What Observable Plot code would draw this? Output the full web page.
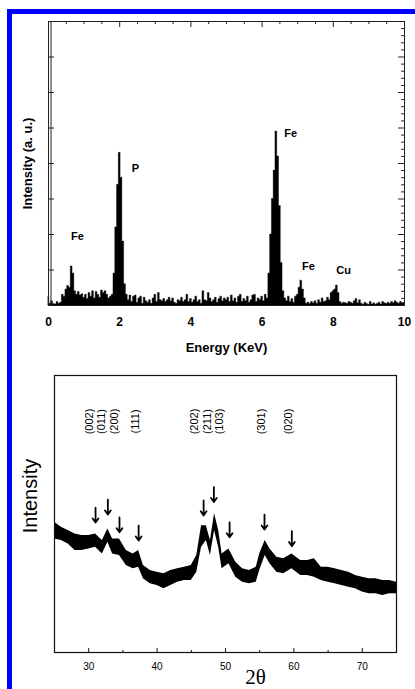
<!DOCTYPE html>
<html><head><meta charset="utf-8">
<script src="https://cdn.jsdelivr.net/npm/d3@7"></script>
<script src="https://cdn.jsdelivr.net/npm/@observablehq/plot@0.6"></script>
<style>
html,body{margin:0;padding:0;background:#fff;}
#wrap{position:relative;width:415px;height:689px;overflow:hidden;background:#fff;}
#border{position:absolute;left:7px;top:9px;width:430px;height:700px;border-top:5px solid #0000ff;border-left:5px solid #0000ff;box-sizing:border-box;}
#eds{position:absolute;left:0;top:0;}
#xrd{position:absolute;left:0;top:340px;}
svg{overflow:visible;background:transparent !important;}
</style></head><body>
<div id="wrap"><div id="border"></div><div id="eds"></div><div id="xrd"></div></div>
<script>
// ---------- EDS spectrum (top) ----------
const edsStep = 0.05; // keV per channel, channels start at 0 keV
const edsCounts = [
  0.25,0.05,0.12,0.04,0.03,0.10,0.05,0.08,0.30,0.25,0.45,0.55,0.50,1.10,0.90,0.40,0.30,0.38,0.28,0.32,
  0.22,0.30,0.18,0.35,0.25,0.40,0.20,0.38,0.30,0.22,0.42,0.35,0.40,0.30,0.20,0.25,0.30,0.90,2.20,3.40,
  4.30,3.60,1.80,0.60,0.30,0.15,0.28,0.10,0.25,0.28,0.08,0.20,0.25,0.05,0.22,0.12,0.08,0.15,0.05,0.20,
  0.30,0.10,0.35,0.15,0.12,0.18,0.10,0.15,0.22,0.12,0.20,0.08,0.05,0.15,0.12,0.22,0.10,0.15,0.30,0.10,
  0.18,0.08,0.15,0.25,0.10,0.15,0.05,0.40,0.15,0.12,0.35,0.20,0.10,0.15,0.22,0.08,0.18,0.25,0.12,0.20,
  0.15,0.22,0.10,0.28,0.12,0.20,0.08,0.25,0.30,0.10,0.18,0.12,0.25,0.08,0.15,0.28,0.30,0.10,0.20,0.15,
  0.25,0.12,0.30,0.20,0.90,2.00,3.00,3.80,4.90,4.20,2.80,1.20,0.40,0.20,0.12,0.25,0.10,0.18,0.08,0.25,
  0.30,0.50,0.70,0.45,0.20,0.05,0.08,0.04,0.10,0.06,0.12,0.05,0.15,0.08,0.20,0.10,0.12,0.22,0.15,0.35,
  0.40,0.45,0.56,0.35,0.10,0.05,0.08,0.06,0.05,0.10,0.08,0.05,0.12,0.18,0.06,0.15,0.05,0.02,0.08,0.04,
  0.02,0.10,0.03,0.06,0.02,0.05,0.08,0.03,0.10,0.06,0.04,0.08,0.05,0.10,0.06,0.12,0.08,0.05,0.10,0.06,
  0.08
];
const edsXTicks = [0, 2, 4, 6, 8, 10];
const edsLabelText = ["Fe", "P", "Fe", "Fe", "Cu"];
const edsLabelE = [0.81, 2.44, 6.80, 7.30, 8.29];
const edsLabelV = [1.94, 3.86, 4.85, 1.10, 0.99];

// ---------- XRD pattern (bottom) ----------
const xrdTheta = [25,26,27,28,29,30,31,32,32.8,33.5,34.5,35.5,36.5,37.3,38,39,40,41,42,43,44,45,45.8,46.5,47.2,47.8,48.4,49,49.5,50.5,51.5,52.5,53.5,54.5,55,55.8,56.5,57.5,58.5,59.7,61,62,63,64,65,66,67,68,69,70,71,72,73,74,75];
const xrdLow  = [41.0,40.4,39.2,36.8,36.8,37.4,38.0,35.6,39.8,35.6,35.0,31.4,30.2,30.8,26.6,24.8,24.2,23.0,24.2,25.4,26.0,26.0,29.0,38.0,40.4,35.0,44.0,38.0,30.2,32.0,27.2,25.4,24.8,25.4,29.6,35.0,32.0,29.0,28.4,30.2,27.8,27.8,27.2,26.0,25.4,24.8,24.2,23.6,23.0,21.8,21.2,21.2,20.6,21.2,21.2];
const xrdHigh = [47.0,45.2,44.0,42.8,42.2,42.2,42.8,40.4,44.6,41.0,41.0,36.8,35.6,36.8,31.4,29.6,29.0,28.4,29.6,30.2,30.8,31.4,35.0,45.8,45.8,40.4,50.1,44.0,35.6,37.4,32.6,30.2,29.6,30.8,35.6,40.4,37.4,34.4,33.8,35.6,33.2,33.2,33.8,30.8,30.8,30.2,29.6,29.0,27.8,27.2,26.6,26.6,26.0,26.0,25.4];
const xrdXTicks = [30, 40, 50, 60, 70];
const xrdXMinor = [35, 45, 55, 65];
const arrowTheta = [31, 32.8, 34.5, 37.3, 46.8, 48.3, 50.6, 55.7, 59.7];
const arrowTip   = [46.9, 49.8, 43.4, 40.4, 49.5, 54.3, 41.6, 44.4, 38.4];
const hklText  = ["(002)", "(011)", "(200)", "(111)", "(202)", "(211)", "(103)", "(301)", "(020)"];
const hklTheta = [30.1, 31.9, 33.8, 36.8, 45.5, 47.4, 49.1, 55.3, 59.2];
const hklLevel = 83.4;

// ---------- build ----------
const sans = "Liberation Sans, Arial, sans-serif";
const eds = edsCounts.map((v, i) => ({e: i * edsStep, v}));
const edsLabels = edsLabelText.map((t, i) => ({t, e: edsLabelE[i], v: edsLabelV[i]}));

const W1 = 415, H1 = 360, mL1 = 48, mR1 = 11, mT1 = 21, mB1 = 55;
const FW1 = W1 - mL1 - mR1, FH1 = H1 - mT1 - mB1;
const topMinor = d3.range(0.5, 10, 0.5).filter(d => d % 2 !== 0);
const topMajor = [2, 4, 6, 8];
const yMajor = d3.range(1, 8, 1);
const yMinor = d3.range(0.2, 8, 0.2).filter(d => Math.abs(d - Math.round(d)) > 0.01);

const edsPlot = Plot.plot({
  width: W1, height: H1,
  marginLeft: mL1, marginRight: mR1, marginTop: mT1, marginBottom: mB1,
  style: {background: "transparent", fontFamily: sans},
  x: {domain: [0, 10], axis: null},
  y: {domain: [0, 8], axis: null},
  marks: [
    Plot.areaY(eds, {x: "e", y: "v", curve: "step", fill: "black", stroke: "black", strokeWidth: 0.4}),
    Plot.frame({stroke: "#222", strokeWidth: 1}),
    Plot.ruleX([0], {dx: 2.5, stroke: "#222", strokeWidth: 1}),
    Plot.ruleX(topMinor, {x: d => d, insetBottom: FH1 - 3, stroke: "#222"}),
    Plot.ruleX(topMajor, {x: d => d, insetBottom: FH1 - 6, stroke: "#222"}),
    Plot.ruleY(yMajor, {y: d => d, insetRight: FW1 - 6, stroke: "#222"}),
    Plot.ruleY(yMajor, {y: d => d, insetLeft: FW1 - 6, stroke: "#222"}),
    Plot.ruleY(yMinor, {y: d => d, insetLeft: FW1 - 3, stroke: "#222"}),
    Plot.text(edsXTicks, {x: d => d, frameAnchor: "bottom", dy: 17, lineAnchor: "middle", text: d => String(d), fontWeight: "bold", fontSize: 12, fill: "black"}),
    Plot.text(edsLabels, {x: "e", y: "v", text: "t", fontWeight: "bold", fontSize: 11, fill: "black"}),
    Plot.text(["Energy (KeV)"], {frameAnchor: "bottom", dy: 42, lineAnchor: "middle", textAnchor: "middle", fontWeight: "bold", fontSize: 13, fill: "black"}),
    Plot.text(["Intensity (a. u.)"], {frameAnchor: "left", dx: -21, textAnchor: "middle", lineAnchor: "middle", rotate: -90, fontWeight: "bold", fontSize: 13, fill: "black"})
  ]
});
document.getElementById("eds").appendChild(edsPlot);

const xrd = xrdTheta.map((t, i) => ({t, lo: xrdLow[i], hi: xrdHigh[i]}));
const arrows = arrowTheta.map((t, i) => ({t, tip: arrowTip[i]}));
const hkl = hklText.map((s, i) => ({s, t: hklTheta[i]}));
const arrowLen = 5.4;

const W2 = 415, H2 = 349, mL2 = 54, mR2 = 19, mT2 = 35, mB2 = 37;
const FH2 = H2 - mT2 - mB2;

const xrdPlot = Plot.plot({
  width: W2, height: H2,
  marginLeft: mL2, marginRight: mR2, marginTop: mT2, marginBottom: mB2,
  style: {background: "transparent", fontFamily: sans},
  x: {domain: [25, 75], axis: null},
  y: {domain: [0, 100], axis: null},
  marks: [
    Plot.areaY(xrd, {x: "t", y1: "lo", y2: "hi", fill: "black"}),
    Plot.frame({stroke: "#111", strokeWidth: 1.2}),
    Plot.ruleX(xrdXTicks, {x: d => d, insetTop: FH2 - 4, stroke: "#111"}),
    Plot.ruleX(xrdXMinor, {x: d => d, insetTop: FH2 - 2, stroke: "#111"}),
    Plot.text(xrdXTicks, {x: d => d, frameAnchor: "bottom", dy: 14, lineAnchor: "middle", text: d => String(d), fontSize: 10, fill: "black"}),
    Plot.arrow(arrows, {x1: "t", x2: "t", y1: d => d.tip + arrowLen, y2: "tip", stroke: "black", strokeWidth: 1.8, headLength: 5, headAngle: 70}),
    Plot.text(hkl, {x: "t", y: () => hklLevel, text: "s", rotate: -90, fontSize: 11, fill: "black", style: "letter-spacing:2px"}),
    Plot.text(["Intensity"], {frameAnchor: "left", dx: -24, dy: -18, textAnchor: "middle", lineAnchor: "middle", rotate: -90, fontSize: 20, fill: "black"}),
    Plot.text(["2θ"], {frameAnchor: "bottom", dy: 25, dx: 30, lineAnchor: "middle", fontSize: 21, fontFamily: "Liberation Serif, Times New Roman, serif", fill: "black"})
  ]
});
document.getElementById("xrd").appendChild(xrdPlot);
</script>
</body></html>
